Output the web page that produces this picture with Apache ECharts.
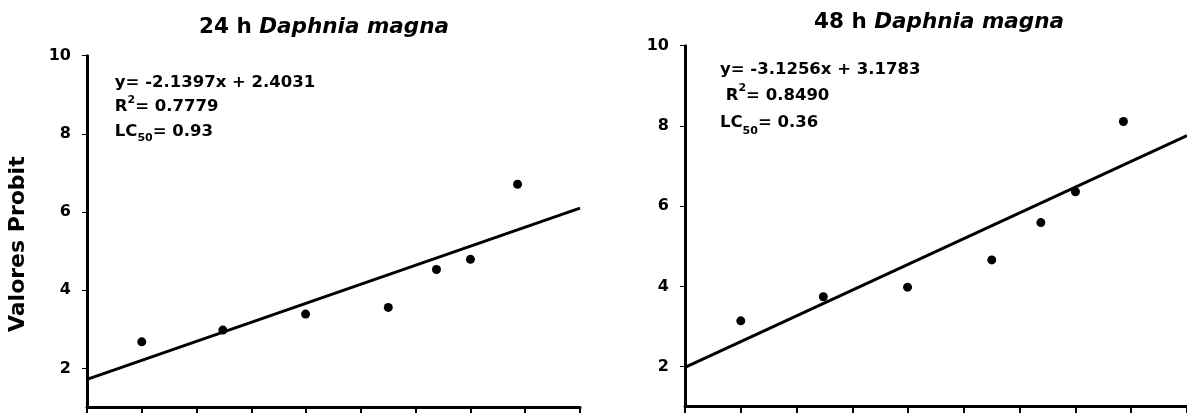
<!DOCTYPE html>
<html><head><meta charset="utf-8">
<script src="https://cdn.jsdelivr.net/npm/echarts@6/dist/echarts.min.js"></script>
<style>html,body{margin:0;padding:0;background:#fff}#c{width:1187px;height:413px}</style>
</head><body><div id="c"></div>
<script>
// ---- data ----
const xConc = [1.0, 2.48, 3.99, 5.5, 6.38, 7.0, 7.86];
const probit24 = [2.68, 2.98, 3.39, 3.56, 4.53, 4.79, 6.71];
const probit48 = [3.14, 3.74, 3.98, 4.66, 5.59, 6.36, 8.11];
const fitX = [0, 9];
const fit24 = [1.72, 6.1];
const fit48 = [1.98, 7.76];
const yTicks = [2, 4, 6, 8, 10];
const titleHours = ['24 h', '48 h'];
const species = 'Daphnia magna';
const eq24 = ['y= -2.1397x + 2.4031', '0.7779', '0.93'];
const eq48 = ['y= -3.1256x + 3.1783', '0.8490', '0.36'];
const yName = 'Valores Probit';

const FONT = '"DejaVu Sans", sans-serif';
const base = {fontFamily: FONT, fontWeight: 'bold', color: '#000'};
const zb = {fontFamily: FONT, fontWeight: 'bold', fill: '#000'};

function yAxisCfg(gi) {
  return {
    gridIndex: gi, type: 'value', min: 1, max: 10,
    axisLine: {show: true, lineStyle: {color: '#000', width: 3}},
    axisTick: {show: true, customValues: yTicks, length: 5, lineStyle: {color: '#000', width: 1}},
    axisLabel: Object.assign({customValues: yTicks, margin: 16, fontSize: 16}, base),
    splitLine: {show: false}
  };
}
function xAxisCfg(gi) {
  return {
    gridIndex: gi, type: 'value', min: 0, max: 9, interval: 1,
    axisLine: {show: true, onZero: false, lineStyle: {color: '#000', width: 3}},
    axisTick: {show: true, length: 8, lineStyle: {color: '#000', width: 2}},
    axisLabel: {show: false},
    splitLine: {show: false}
  };
}
function titleText(x, y, hours) {
  return {
    type: 'text', x: x, y: y,
    style: {
      text: '{n|' + hours + ' }{i|' + species + '}',
      rich: {
        n: Object.assign({fontSize: 21.5}, zb),
        i: Object.assign({fontSize: 21.5, fontStyle: 'italic'}, zb)
      },
      align: 'center', verticalAlign: 'middle'
    }
  };
}
function eqText(x, y, eq, lh, r2pad) {
  return {
    type: 'text', x: x, y: y,
    style: {
      text: '{m|' + eq[0] + '}\n{m|' + r2pad + 'R}{sup|2}{m|= ' + eq[1] + '}\n{m|LC}{sub|50}{m|= ' + eq[2] + '}',
      rich: {
        m: Object.assign({fontSize: 16.5, lineHeight: lh}, zb),
        sup: Object.assign({fontSize: 11, lineHeight: 17, verticalAlign: 'top'}, zb),
        sub: Object.assign({fontSize: 11, lineHeight: 12, verticalAlign: 'bottom'}, zb)
      },
      align: 'left', verticalAlign: 'top'
    }
  };
}

const chart = echarts.init(document.getElementById('c'), null, {renderer: 'canvas'});
chart.setOption({
  backgroundColor: '#fff',
  animation: false,
  grid: [
    {left: 87, top: 55.7, width: 493, height: 351.8},
    {left: 685, top: 45.7, width: 507.6, height: 361}
  ],
  xAxis: [xAxisCfg(0), xAxisCfg(1)],
  yAxis: [yAxisCfg(0), yAxisCfg(1)],
  series: [
    {type: 'line', xAxisIndex: 0, yAxisIndex: 0, showSymbol: false, z: 2,
     data: fitX.map((x, i) => [x, fit24[i]]), lineStyle: {color: '#000', width: 3}},
    {type: 'scatter', xAxisIndex: 0, yAxisIndex: 0, symbolSize: 9, z: 3,
     data: xConc.map((x, i) => [x, probit24[i]]), itemStyle: {color: '#000', opacity: 1}},
    {type: 'line', xAxisIndex: 1, yAxisIndex: 1, showSymbol: false, z: 2,
     data: fitX.map((x, i) => [x, fit48[i]]), lineStyle: {color: '#000', width: 3}},
    {type: 'scatter', xAxisIndex: 1, yAxisIndex: 1, symbolSize: 9, z: 3,
     data: xConc.map((x, i) => [x, probit48[i]]), itemStyle: {color: '#000', opacity: 1}}
  ],
  graphic: [
    titleText(324, 27.5, titleHours[0]),
    titleText(939, 22.5, titleHours[1]),
    eqText(114.8, 70, eq24, 24.7, ''),
    eqText(720, 56, eq48, 26.8, ' '),
    {type: 'text', x: 18.3, y: 244.2, rotation: Math.PI / 2,
     style: Object.assign({text: yName, fontSize: 22, align: 'center', verticalAlign: 'middle'}, zb)}
  ]
});
</script>
</body></html>
